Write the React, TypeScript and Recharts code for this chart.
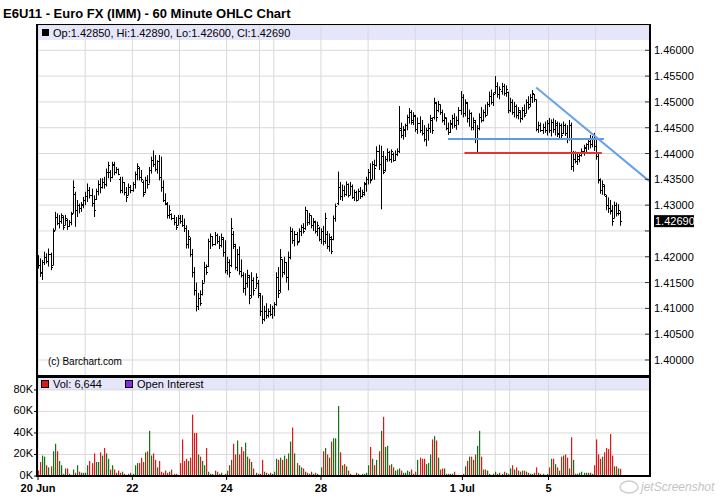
import React from "react"
import {
  ComposedChart,
  BarChart,
  Bar,
  XAxis,
  YAxis,
  CartesianGrid,
  ReferenceLine,
} from "recharts"

// E6U11 60 minute bars, Jun 20 - Jul 6 2011. Prices in pips (1/10000).
const OPEN = [
  14195,14185,14168,14190,14200,14192,14205,14185,14252,14278,
  14265,14270,14278,14262,14272,14260,14268,14285,14322,14290,
  14300,14295,14300,14310,14318,14330,14320,14305,14312,14328,
  14340,14335,14345,14340,14365,14365,14355,14378,14365,14370,
  14350,14330,14345,14325,14320,14335,14330,14340,14360,14372,
  14355,14345,14325,14348,14340,14368,14388,14380,14370,14385,
  14355,14335,14310,14302,14280,14282,14275,14268,14262,14275,
  14270,14262,14255,14225,14235,14205,14170,14135,14105,14120,
  14128,14150,14180,14182,14230,14240,14225,14242,14230,14222,
  14235,14210,14175,14190,14185,14245,14220,14180,14205,14172,
  14165,14140,14150,14160,14125,14155,14140,14150,14125,14095,
  14080,14095,14088,14095,14090,14100,14108,14160,14135,14195,
  14170,14190,14160,14200,14250,14232,14245,14230,14250,14258,
  14255,14290,14268,14280,14262,14268,14250,14255,14235,14250,
  14230,14245,14220,14235,14235,14275,14305,14335,14318,14330,
  14322,14340,14320,14338,14315,14325,14310,14328,14318,14322,
  14340,14350,14365,14350,14380,14378,14405,14380,14395,14368,
  14390,14402,14390,14400,14388,14400,14405,14450,14435,14445,
  14455,14470,14480,14465,14472,14448,14460,14445,14440,14428,
  14445,14450,14465,14470,14498,14485,14495,14480,14465,14468,
  14450,14442,14458,14468,14455,14465,14485,14510,14478,14498,
  14468,14478,14452,14462,14430,14450,14470,14465,14480,14475,
  14495,14512,14500,14520,14530,14515,14522,14530,14518,14520,
  14485,14500,14480,14492,14475,14480,14468,14485,14478,14500,
  14495,14510,14515,14505,14448,14455,14445,14452,14445,14460,
  14445,14462,14448,14455,14440,14455,14440,14455,14440,14430,
  14455,14375,14390,14385,14390,14398,14405,14410,14418,14425,
  14418,14430,14415,14395,14348,14330,14338,14318,14300,14295,
  14290,14275,14300,14285,14285,
]
const HIGH = [
  14203,14197,14194,14210,14207,14216,14208,14255,14287,14284,
  14281,14284,14280,14281,14274,14271,14287,14348,14326,14310,
  14303,14306,14316,14326,14342,14335,14332,14319,14332,14348,
  14352,14352,14355,14371,14384,14368,14384,14384,14374,14371,
  14355,14355,14345,14335,14342,14339,14345,14365,14381,14374,
  14368,14348,14355,14358,14374,14394,14406,14397,14387,14397,
  14394,14348,14323,14306,14300,14284,14281,14277,14281,14281,
  14281,14274,14261,14252,14238,14215,14180,14150,14130,14135,
  14155,14190,14185,14235,14245,14240,14248,14245,14240,14245,
  14238,14232,14200,14195,14275,14250,14225,14215,14220,14195,
  14170,14168,14175,14165,14170,14160,14168,14155,14130,14125,
  14105,14110,14100,14108,14105,14112,14170,14180,14215,14195,
  14200,14190,14210,14258,14255,14250,14248,14255,14262,14265,
  14297,14290,14285,14280,14275,14270,14268,14258,14255,14260,
  14285,14250,14245,14240,14280,14303,14365,14345,14340,14338,
  14346,14342,14345,14340,14330,14328,14332,14335,14330,14345,
  14355,14370,14381,14385,14388,14414,14417,14415,14405,14395,
  14410,14405,14408,14402,14406,14410,14492,14460,14453,14458,
  14475,14488,14484,14480,14475,14470,14472,14465,14455,14450,
  14458,14475,14470,14508,14500,14502,14495,14485,14478,14470,
  14460,14465,14475,14478,14472,14490,14521,14515,14505,14500,
  14485,14480,14470,14465,14455,14478,14490,14485,14495,14500,
  14520,14524,14518,14550,14538,14530,14537,14535,14532,14520,
  14508,14505,14500,14495,14490,14484,14490,14495,14505,14511,
  14515,14523,14515,14505,14462,14460,14458,14462,14465,14469,
  14466,14468,14465,14462,14460,14458,14462,14458,14455,14465,
  14460,14405,14404,14400,14402,14410,14417,14420,14430,14436,
  14434,14440,14428,14400,14352,14348,14340,14320,14315,14310,
  14300,14307,14305,14302,14289,
]
const LOW = [
  14177,14161,14155,14184,14187,14181,14174,14184,14252,14261,
  14255,14264,14252,14261,14252,14258,14261,14284,14258,14277,
  14284,14287,14294,14300,14306,14313,14297,14277,14310,14319,
  14323,14332,14332,14336,14352,14345,14352,14358,14361,14358,
  14323,14323,14319,14306,14319,14323,14326,14332,14348,14348,
  14345,14316,14323,14332,14342,14361,14374,14365,14361,14348,
  14326,14306,14300,14274,14274,14271,14261,14252,14261,14264,
  14258,14248,14216,14216,14200,14160,14125,14094,14097,14105,
  14125,14150,14165,14180,14215,14220,14222,14225,14215,14218,
  14200,14168,14165,14160,14180,14215,14175,14172,14165,14160,
  14130,14125,14140,14108,14120,14125,14140,14120,14085,14070,
  14075,14080,14082,14085,14080,14085,14105,14120,14130,14160,
  14165,14150,14135,14195,14225,14220,14222,14228,14240,14245,
  14252,14260,14262,14255,14250,14245,14240,14230,14225,14222,
  14225,14215,14210,14205,14232,14268,14300,14310,14308,14316,
  14318,14315,14320,14312,14308,14307,14310,14312,14315,14318,
  14326,14340,14342,14350,14349,14375,14368,14292,14360,14365,
  14384,14385,14382,14384,14386,14395,14401,14430,14427,14432,
  14445,14458,14456,14455,14442,14438,14440,14435,14423,14414,
  14425,14440,14438,14466,14462,14480,14475,14460,14455,14445,
  14436,14440,14448,14450,14446,14455,14475,14470,14472,14460,
  14452,14445,14445,14420,14403,14445,14460,14462,14470,14475,
  14490,14495,14492,14515,14508,14505,14514,14512,14510,14478,
  14480,14475,14470,14468,14466,14460,14465,14470,14478,14485,
  14490,14498,14500,14443,14440,14442,14438,14440,14435,14440,
  14433,14440,14435,14432,14430,14428,14438,14434,14420,14425,
  14368,14365,14381,14378,14383,14394,14396,14400,14407,14410,
  14412,14405,14388,14342,14322,14320,14318,14290,14285,14282,
  14260,14275,14278,14280,14260,
]
const CLOSE = [
  14185,14170,14190,14200,14192,14205,14180,14250,14278,14265,
  14270,14280,14258,14275,14260,14268,14282,14335,14290,14300,
  14295,14302,14310,14318,14330,14320,14305,14290,14328,14340,
  14335,14345,14340,14365,14378,14355,14380,14365,14370,14360,
  14330,14345,14325,14315,14335,14330,14340,14360,14375,14355,
  14350,14322,14348,14340,14368,14388,14380,14370,14385,14355,
  14335,14310,14305,14280,14290,14275,14268,14258,14275,14270,
  14262,14255,14225,14240,14205,14170,14135,14105,14120,14110,
  14150,14180,14170,14230,14240,14225,14242,14230,14222,14238,
  14210,14175,14190,14170,14255,14225,14180,14205,14172,14165,
  14140,14150,14165,14120,14155,14135,14160,14130,14095,14080,
  14095,14088,14095,14090,14100,14108,14160,14130,14200,14170,
  14190,14160,14200,14250,14232,14245,14228,14250,14258,14250,
  14290,14268,14280,14262,14270,14250,14262,14235,14250,14230,
  14275,14220,14238,14212,14275,14298,14335,14318,14330,14322,
  14340,14320,14338,14315,14325,14310,14328,14318,14325,14342,
  14350,14365,14348,14380,14372,14405,14380,14395,14365,14390,
  14402,14390,14405,14388,14400,14405,14445,14435,14448,14455,
  14470,14480,14462,14475,14448,14460,14445,14440,14428,14445,
  14450,14468,14445,14500,14470,14495,14480,14465,14470,14450,
  14442,14460,14468,14455,14465,14485,14510,14478,14500,14468,
  14478,14452,14465,14430,14450,14470,14465,14480,14475,14495,
  14512,14500,14515,14530,14515,14525,14530,14518,14525,14485,
  14500,14480,14492,14475,14485,14468,14485,14475,14500,14490,
  14510,14518,14505,14448,14455,14445,14452,14445,14460,14445,
  14462,14448,14460,14438,14455,14435,14455,14440,14428,14455,
  14375,14390,14385,14395,14398,14405,14412,14418,14425,14418,
  14430,14415,14395,14350,14330,14340,14322,14300,14295,14288,
  14270,14300,14285,14290,14269,
]
// volume per bar, thousands of contracts
const VOLUME_K = [
  5,13,19,18,10,8,9,23,30,23,14,10,2,7,7,2,1,6,3,10,4,3,3,
  3,10,14,12,21,13,13,22,19,26,21,16,6,10,6,3,5,3,4,2,1,2,3,
  2,10,12,12,17,13,22,23,42,19,21,15,8,14,4,3,5,3,4,6,2,2,1,
  12,34,14,16,14,17,57,40,40,20,18,14,10,26,4,2,2,5,4,2,3,1,2,
  5,10,15,30,20,33,20,27,23,31,18,16,13,7,3,2,
  2,15,4,3,2,3,2,
  4,16,15,17,15,19,16,21,32,45,21,12,10,8,7,4,3,2,4,2,3,2,1,
  8,23,26,20,17,32,35,35,65,22,10,11,9,5,2,1,1,3,2,1,2,2,3,
  10,27,16,10,15,23,42,55,27,28,10,11,8,5,6,7,5,3,3,5,4,6,2,
  4,15,17,16,16,11,12,20,34,37,33,17,6,7,7,2,2,2,2,4,1,1,1,
  2,9,14,18,18,15,20,28,42,18,6,6,5,2,1,2,
  4,2,3,2,4,3,2,
  7,10,6,8,5,4,5,5,4,3,2,2,3,8,3,2,2,1,2,
  8,16,16,11,8,5,18,19,20,17,7,36,15,2,2,3,4,3,3,3,3,2,10,
  34,20,16,18,22,26,25,39,19,9,9,7,6.644,
]

const SLOTS = 299 // bar slots across the panel, the last ones empty
const DAY_TICKS = [0, 23, 46, 69, 92, 108, 115, 138, 161, 184, 207, 223, 230, 249, 272]
const DAY_LABELS = ["20 Jun", "", "22", "", "24", "", "", "28", "", "", "1 Jul", "", "", "5", ""]
const PRICE_TICKS = [1.4, 1.405, 1.41, 1.415, 1.42, 1.425, 1.43, 1.435, 1.44, 1.445, 1.45, 1.455, 1.46]
const VOL_TICKS = [0, 20, 40, 60, 80]

// drawn study lines
const SUPPORT_BLUE = [{ x: 200, y: 1.4428 }, { x: 276, y: 1.4428 }]
const SUPPORT_RED = [{ x: 208, y: 1.4401 }, { x: 275, y: 1.4401 }]
const TREND_DOWN = [{ x: 243, y: 1.4528 }, { x: 298, y: 1.4347 }]

const UP = "#167016"
const DOWN = "#dd1818"
const FLAT = "#101060"
const GRID = "#d9d9d9"
const BAND = "#e6e6fa"
const FONT = "'Liberation Sans', Arial, Helvetica, sans-serif"

const last = CLOSE.length - 1
const LAST_CLOSE = CLOSE[last] / 1e4

const rows = Array.from({ length: SLOTS }, (_, i) =>
  i <= last
    ? { i, o: OPEN[i] / 1e4, h: HIGH[i] / 1e4, l: LOW[i] / 1e4, c: CLOSE[i] / 1e4, v: VOLUME_K[i] }
    : { i }
)

const fmt = (p: number) => (p / 1e4).toFixed(5)
const volText = Math.round(VOLUME_K[last] * 1000).toLocaleString("en-US")

function OhlcBar(props: any) {
  const { x, y, width, height, payload } = props
  if (!payload || payload.h == null) return null
  const top = Math.min(y, y + height)
  const bot = Math.max(y, y + height)
  const span = payload.h - payload.l
  const at = (v: number) => Math.round(span > 0 ? top + ((payload.h - v) / span) * (bot - top) : top) + 0.5
  const cx = Math.round(x + width / 2) + 0.5
  return (
    <g stroke="#000" strokeWidth={1}>
      <line x1={cx} x2={cx} y1={top} y2={bot} />
      <line x1={cx - 1.5} x2={cx} y1={at(payload.o)} y2={at(payload.o)} />
      <line x1={cx} x2={cx + 1.5} y1={at(payload.c)} y2={at(payload.c)} />
    </g>
  )
}

function VolBar(props: any) {
  const { x, y, width, height, payload } = props
  if (!payload || payload.v == null) return null
  const color = payload.c > payload.o ? UP : payload.c < payload.o ? DOWN : FLAT
  return <rect x={Math.round(x + width / 2)} y={y} width={1.2} height={height} fill={color} />
}

function PriceTick({ x, y, payload }: any) {
  const v = payload.value
  // barchart drops labels that would collide with the last price flag
  const hidden = Math.abs(v - LAST_CLOSE) < 0.002
  return (
    <g>
      <line x1={x - 5} x2={x} y1={y} y2={y} stroke="#333" />
      {!hidden && (
        <text x={x + 4} y={y + 4} fontSize={11} fontFamily={FONT} fill="#000">
          {v.toFixed(5)}
        </text>
      )}
    </g>
  )
}

function PriceFlag({ viewBox }: any) {
  if (!viewBox) return null
  const x = viewBox.x + viewBox.width + 4
  const y = viewBox.y
  return (
    <g>
      <rect x={x} y={y - 6} width={40} height={12} fill="#000" />
      <text x={x + 1} y={y + 4} fontSize={11} fontFamily={FONT} fill="#fff">
        {LAST_CLOSE.toFixed(5)}
      </text>
    </g>
  )
}

function VolTick({ x, y, payload }: any) {
  return (
    <g>
      <line x1={x - 3} x2={x} y1={y} y2={y} stroke="#000" />
      <text x={x - 4} y={y + 3} textAnchor="end" fontSize={11} fontFamily={FONT} fill="#000">
        {payload.value}K
      </text>
    </g>
  )
}

function DayTick({ x, y, payload }: any) {
  const label = DAY_LABELS[DAY_TICKS.indexOf(payload.value)]
  if (!label) return null
  return (
    <g>
      <line x1={x} x2={x} y1={y} y2={y + 4} stroke="#000" />
      <text x={x} y={y + 15.5} textAnchor="middle" fontSize={11} fontWeight="bold" fontFamily={FONT} fill="#000">
        {label}
      </text>
    </g>
  )
}

const layer: React.CSSProperties = { position: "absolute", left: 0, top: 0 }

export default function App() {
  return (
    <div style={{ position: "absolute", left: 0, top: 0, width: 721, height: 500, background: "#fff", fontFamily: FONT, overflow: "hidden" }}>
      {/* header bands behind the plots */}
      <svg width={721} height={500} style={layer}>
        <rect x={37} y={25} width={613} height={15} fill={BAND} />
        <rect x={37} y={377} width={613} height={13} fill={BAND} />
      </svg>

      <div style={layer}>
        <ComposedChart width={721} height={378} data={rows} margin={{ top: 25, right: 0, bottom: 2, left: 37 }}>
          <CartesianGrid stroke={GRID} />
          <XAxis dataKey="i" type="category" hide ticks={DAY_TICKS} interval={0} />
          <YAxis
            orientation="right"
            type="number"
            width={71}
            domain={[1.3969, 1.4649]}
            allowDataOverflow
            ticks={PRICE_TICKS}
            interval={0}
            tickSize={0}
            tickMargin={0}
            axisLine={false}
            tickLine={false}
            tick={<PriceTick />}
          />
          <Bar
            dataKey={(d: any) => (d.h == null ? undefined : [d.l, d.h])}
            shape={<OhlcBar />}
            isAnimationActive={false}
          />
          <ReferenceLine segment={SUPPORT_RED} stroke="#e33535" strokeWidth={2} ifOverflow="visible" />
          <ReferenceLine segment={SUPPORT_BLUE} stroke="#5b9be8" strokeWidth={2} ifOverflow="visible" />
          <ReferenceLine segment={TREND_DOWN} stroke="#6aa2ea" strokeWidth={2} ifOverflow="visible" />
          <ReferenceLine y={LAST_CLOSE} stroke="none" ifOverflow="visible" label={<PriceFlag />} />
        </ComposedChart>
      </div>

      <div style={{ ...layer, top: 376 }}>
        <BarChart width={721} height={124} data={rows} margin={{ top: 1, right: 71, bottom: 0, left: 0 }}>
          <CartesianGrid stroke={GRID} />
          <XAxis
            dataKey="i"
            type="category"
            height={24}
            ticks={DAY_TICKS}
            interval={0}
            tickSize={0}
            tickMargin={0}
            tickLine={false}
            axisLine={{ stroke: "#000", strokeWidth: 2 }}
            tick={<DayTick />}
          />
          <YAxis
            type="number"
            width={37}
            domain={[0, 92]}
            allowDataOverflow
            ticks={VOL_TICKS}
            interval={0}
            tickSize={0}
            tickMargin={0}
            tickLine={false}
            axisLine={false}
            tick={<VolTick />}
          />
          <Bar dataKey="v" shape={<VolBar />} isAnimationActive={false} />
        </BarChart>
      </div>

      {/* frames, legends and captions */}
      <svg width={721} height={500} style={{ ...layer, pointerEvents: "none" }} fontFamily={FONT}>
        <text x={3} y={18} fontSize={13} fontWeight="bold" fill="#000">
          E6U11 - Euro FX (IMM) - 60 Minute OHLC Chart
        </text>
        <rect x={42} y={29} width={7} height={7} fill="#000" />
        <text x={53} y={37} fontSize={11} fill="#000">
          {`Op:${fmt(OPEN[last])}, Hi:${fmt(HIGH[last])}, Lo:${fmt(LOW[last])}, Cl:${fmt(CLOSE[last])}`}
        </text>
        <text x={48} y={365} fontSize={10} fill="#000">(c) Barchart.com</text>

        <rect x={41.5} y={380.5} width={7} height={7} fill={DOWN} stroke="#000" />
        <text x={53} y={388} fontSize={11} fill="#000">{`Vol: ${volText}`}</text>
        <rect x={125.5} y={380.5} width={7} height={7} fill="#8a2be2" stroke="#000" />
        <text x={137} y={388} fontSize={11} fill="#000">Open Interest</text>

        <line x1={36} x2={651} y1={24.5} y2={24.5} stroke="#000" strokeWidth={1} />
        <line x1={37} x2={37} y1={24} y2={477} stroke="#000" strokeWidth={2} />
        <line x1={650} x2={650} y1={24} y2={477} stroke="#000" strokeWidth={2} />
        <line x1={36} x2={651} y1={376.5} y2={376.5} stroke="#000" strokeWidth={3} />

        <ellipse cx={629} cy={487} rx={9} ry={6} fill="none" stroke="#cfcfcf" strokeWidth={1.5} />
        <text x={641} y={491} fontSize={12} fontStyle="italic" fill="#c4c4c4">jetScreenshot</text>
      </svg>
    </div>
  )
}
